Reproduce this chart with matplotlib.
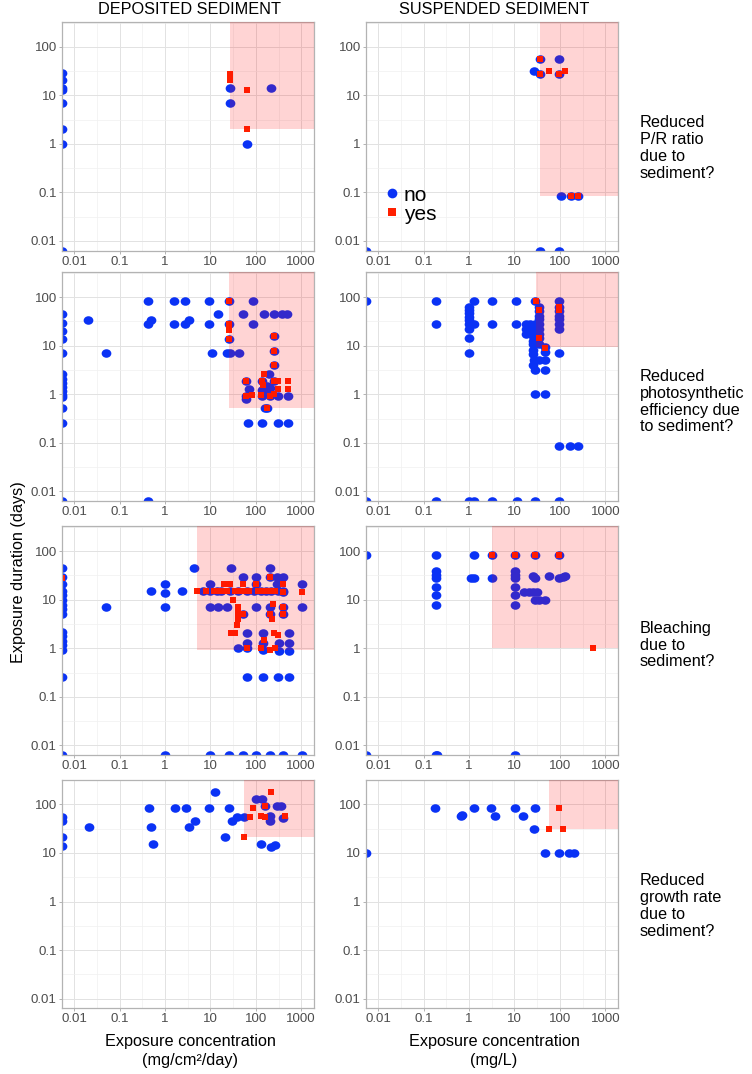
import matplotlib
matplotlib.use('Agg')
import matplotlib.pyplot as plt
from matplotlib.path import Path
from matplotlib.patches import Rectangle
from matplotlib.lines import Line2D
from matplotlib.ticker import FixedLocator, FixedFormatter, NullFormatter
import numpy as np

plt.rcParams['font.family'] = ['Liberation Sans', 'DejaVu Sans']

# ---------------- data ----------------
col_titles = ['DEPOSITED SEDIMENT', 'SUSPENDED SEDIMENT']
row_labels = ['Reduced\nP/R ratio\ndue to\nsediment?',
              'Reduced\nphotosynthetic\nefficiency due\nto sediment?',
              'Bleaching\ndue to\nsediment?',
              'Reduced\ngrowth rate\ndue to\nsediment?']
x_labels = ['Exposure concentration\n(mg/cm\u00b2/day)', 'Exposure concentration\n(mg/L)']
y_label = 'Exposure duration (days)'
legend_labels = ['no', 'yes']
x_ticks = [0.01, 0.1, 1, 10, 100, 1000]
x_tick_labels = ['0.01', '0.1', '1', '10', '100', '1000']
y_ticks = [0.01, 0.1, 1, 10, 100]
y_tick_labels = ['0.01', '0.1', '1', '10', '100']

# lower-left corner of the shaded "effect" region, per panel (row-major: deposited, suspended)
shade_x_min = [27, 36.7, 26, 30, 5, 3.2, 55, 57]
shade_y_min = [2.0, 0.083, 0.52, 9.4, 0.93, 1.0, 21, 30.6]

# Row 1: P/R ratio
dep_pr_no_x = [0.0054, 0.0054, 0.0054, 0.0054, 0.0054, 0.0054, 0.0054, 0.0054, 27, 27, 65, 218]
dep_pr_no_y = [29, 21, 14.3, 13, 7, 2.04, 1, 0.0063, 14.3, 7, 1, 14.3]
dep_pr_yes_x = [27, 27, 65, 65]
dep_pr_yes_y = [28, 21, 13, 2]

sus_pr_no_x = [27.5, 36.7, 36.7, 98, 95, 107, 176, 245, 36.7, 95, 0.0054]
sus_pr_no_y = [31.5, 56.6, 28.2, 56.6, 28, 0.083, 0.083, 0.083, 0.0063, 0.0063, 0.0063]
sus_pr_yes_x = [36.7, 36.7, 59, 95, 128, 176, 245]
sus_pr_yes_y = [56.6, 28.2, 31.5, 28, 31.5, 0.083, 0.083]

# Row 2: photosynthetic efficiency
dep_ps_no_x = [0.0054, 0.0054, 0.0054, 0.0054, 0.0054, 0.0054, 0.0054, 0.0054, 0.0054, 0.0054,
               0.0054, 0.0054, 0.0054, 0.0054, 0.0054,
               0.02, 0.05, 0.42, 0.42, 0.48, 0.43, 1.6, 1.6, 2.8, 2.8, 3.3, 9.1, 9.1, 15, 11,
               23, 27, 42, 26, 26, 26, 52, 86, 86, 152, 253, 370, 480, 246, 246, 246,
               60, 69, 60, 60, 190, 140, 257, 200, 140, 140, 200, 315, 522, 175, 160,
               175, 165, 68, 140, 315, 522]
dep_ps_no_y = [45, 29.4, 20.5, 14.1, 7.1, 2.56, 2.03, 1.69, 1.42, 1.17,
               0.97, 0.86, 0.51, 0.25, 0.0063,
               34, 7.1, 84, 28, 34, 0.0063, 84, 28, 84, 28, 34, 84, 28, 45, 7,
               7, 7, 7, 28, 84, 14, 45, 84, 28, 45, 45, 45, 45, 16, 7.9, 4.1,
               1.87, 1.3, 0.92, 0.81, 2.6, 1.87, 1.9, 1.35, 1.2, 0.92, 0.92, 0.92, 0.92, 0.53, 0.53,
               1.48, 1.2, 0.25, 0.25, 0.25, 0.25]
dep_ps_yes_x = [26, 26, 26, 26, 246, 246, 246, 60, 60, 82, 155, 140, 147, 315, 522, 315, 522,
                257, 131, 200, 257, 175]
dep_ps_yes_y = [84, 28, 21, 14, 16, 7.9, 4.1, 1.87, 0.92, 0.96, 2.57, 1.87, 1.56, 1.87, 1.87, 1.31, 1.31,
                1.9, 0.96, 0.92, 1.0, 0.53]

sus_ps_no_x = [0.0054, 0.0054, 0.185, 1.0, 1.26, 3.2, 11.5, 29, 98,
               0.185, 0.185, 1, 1, 1, 1, 1, 1, 1, 1, 1,
               1.26, 1.26, 3.2, 3.2, 10.9, 10.9,
               18, 21.5, 18, 18, 21.5, 23, 25, 25, 25, 25, 26, 27, 25, 29, 35, 46, 46, 46, 46,
               29, 29, 46, 29, 29,
               35, 35, 35, 35, 35, 35, 35, 35, 35,
               98, 98, 98, 98, 98, 98, 98, 98,
               98, 167, 245]
sus_ps_no_y = [85, 0.0063, 0.0063, 0.0063, 0.0063, 0.0063, 0.0063, 0.0063, 0.0063,
               85, 28, 64, 55, 47, 40, 34, 28, 22, 14.5, 7,
               85, 28, 85, 28, 85, 28,
               28, 28, 22, 17.6, 22, 19, 16, 12.8, 11, 8.2, 6.8, 5.1, 4.0, 3.1, 5.1, 5.1, 3.1, 7.4, 9.4,
               85, 1, 1, 28, 22,
               64, 53, 42, 36, 28, 22, 17.6, 14.3, 11,
               85, 64, 53, 42, 36, 28, 22, 7,
               0.085, 0.085, 0.085]
sus_ps_yes_x = [30, 35.5, 35.5, 46, 97, 97]
sus_ps_yes_y = [85, 55, 14.3, 9, 64, 55]

# Row 3: bleaching
dep_bl_no_x = [0.0054] * 16 + [
    0.05, 0.5, 1.0, 1.0, 1.0, 1.0, 2.4, 4.4,
    7, 10, 14, 17, 27, 41, 63, 90, 133, 170, 220, 300, 400,
    10, 10, 29, 52, 100, 206, 206, 290, 405, 100, 1020, 1020, 15, 23, 52,
    63, 63, 63, 40, 142, 142, 142, 206, 206, 330, 330, 530, 530, 530, 405, 405, 405,
    63, 142, 315, 530,
    10, 26, 52, 100, 206, 405, 1020, 290, 100]
dep_bl_no_y = [46, 29, 21, 14.8, 12.6, 10, 7.9, 6.5, 5, 2.15, 1.75, 1.43, 1.15, 0.9, 0.25, 0.0063,
    7, 14.8, 21, 14, 7, 0.0063, 14.8, 46,
    14.8, 14.8, 14.8, 14.8, 14.8, 14.8, 14.8, 14.8, 14.8, 14.8, 14.8, 14.8, 14.8,
    21, 7, 46, 29, 29, 46, 29, 29, 29, 21, 21, 7, 7, 7, 5,
    2.06, 1.28, 1.0, 1.0, 2.06, 1.28, 0.9, 7, 5, 1.28, 0.88, 2.06, 1.28, 0.88, 5, 7, 14.5,
    0.25, 0.25, 0.25, 0.25,
    0.0063, 0.0063, 0.0063, 0.0063, 0.0063, 0.0063, 0.0063, 21, 7]
dep_bl_yes_x = [0.0054, 5, 8, 12, 15, 19, 23, 35, 45, 55, 70, 110, 140, 180, 230, 270,
                20, 27, 52, 100, 206, 405, 1020, 31, 40, 40, 40, 38, 29, 35, 52,
                63, 130, 148, 245, 300, 208, 260, 405, 405, 405, 236, 230, 206]
dep_bl_yes_y = [28, 14.8, 14.8, 14.8, 15.5, 14.8, 14.8, 14.8, 15.5, 14.8, 14.8, 14.8, 15.5, 14.8, 14.8, 14.8,
                21, 21, 21, 21, 29, 21, 14.3, 10, 7, 5.3, 4.1, 3.0, 2.06, 2.06, 5,
                1.0, 1.0, 1.5, 2.06, 1.9, 0.93, 1.0, 7, 5, 14.5, 8.1, 4.0, 5]

sus_bl_no_x = [0.0054, 0.0054, 0.19, 0.2, 10.5,
               0.19, 0.19, 0.19, 0.19, 0.19, 0.19, 0.19,
               1.27, 1.1, 1.3, 3.2, 3.2, 10.5,
               10.5, 10.5, 10.5, 10.5, 10.5, 10.5,
               16.6, 21, 26, 32, 29, 26, 29, 29, 35, 46, 57, 98, 95, 115, 128]
sus_bl_no_y = [85, 0.0063, 0.0063, 0.0063, 0.0063,
               85, 39, 33, 28, 18, 12.8, 7.7,
               85, 28, 28, 85, 28, 85,
               39, 33, 28, 18, 12.8, 7.7,
               14.3, 14.3, 14.3, 14.3, 85, 31, 28, 10, 10, 10, 31, 85, 28, 29.5, 31]
sus_bl_yes_x = [3.2, 10.5, 29, 98, 525]
sus_bl_yes_y = [85, 85, 85, 85, 1]

# Row 4: growth rate
dep_gr_no_x = [0.0054, 0.0054, 0.0054, 0.0054, 0.021, 0.45, 0.49, 0.53, 1.63, 2.9, 3.4, 4.5, 9.2,
               12.9, 20.5, 25, 29.6, 39, 55, 101, 134, 160, 290, 355, 205, 205, 400, 128, 215, 265]
dep_gr_no_y = [54, 45.5, 21, 14, 34, 83, 34, 15, 83, 83, 34, 45.5, 83,
               182, 21, 83, 45.5, 54, 54, 127, 127, 92, 92, 92, 57, 45.5, 52, 15, 13.5, 14.5]
dep_gr_yes_x = [218, 85, 75, 55, 160, 128, 160, 430]
dep_gr_yes_y = [182, 83, 54, 21, 92, 57, 54, 57]

sus_gr_no_x = [0.0054, 0.18, 0.66, 0.7, 1.3, 3.1, 3.8, 10.5, 15.5, 28, 26.5, 48, 96, 158, 200]
sus_gr_no_y = [10, 83, 58, 60, 83, 83, 58, 83, 58, 83, 30.6, 10, 10, 10, 10]
sus_gr_yes_x = [96, 57, 117]
sus_gr_yes_y = [83, 30.6, 30.6]

panel_data = [
    [(dep_pr_no_x, dep_pr_no_y, dep_pr_yes_x, dep_pr_yes_y),
     (sus_pr_no_x, sus_pr_no_y, sus_pr_yes_x, sus_pr_yes_y)],
    [(dep_ps_no_x, dep_ps_no_y, dep_ps_yes_x, dep_ps_yes_y),
     (sus_ps_no_x, sus_ps_no_y, sus_ps_yes_x, sus_ps_yes_y)],
    [(dep_bl_no_x, dep_bl_no_y, dep_bl_yes_x, dep_bl_yes_y),
     (sus_bl_no_x, sus_bl_no_y, sus_bl_yes_x, sus_bl_yes_y)],
    [(dep_gr_no_x, dep_gr_no_y, dep_gr_yes_x, dep_gr_yes_y),
     (sus_gr_no_x, sus_gr_no_y, sus_gr_yes_x, sus_gr_yes_y)],
]

# ---------------- style ----------------
BLUE = '#0a32f5'
RED = '#ff2000'
XLIM = (10 ** -2.27, 10 ** 3.27)
YLIM = (10 ** -2.2, 10 ** 2.51)

uc = Path.unit_circle()
ellipse = Path(uc.vertices * np.array([1.0, 0.88]), uc.codes)

fig = plt.figure(figsize=(7.52, 10.74), dpi=100)
col_x0 = [0.0824, 0.4867]
col_w = 0.3345
row_y0 = [0.7666, 0.5335, 0.2970, 0.0612]
row_h = 0.2128

axes = []
for r in range(4):
    for c in range(2):
        ax = fig.add_axes([col_x0[c], row_y0[r], col_w, row_h])
        axes.append(ax)
        nx, ny, yx, yy = panel_data[r][c]
        ax.set_xscale('log')
        ax.set_yscale('log')
        ax.set_xlim(*XLIM)
        ax.set_ylim(*YLIM)
        ax.plot(nx, ny, ls='none', marker=ellipse, markersize=7.0, color=BLUE,
                markeredgewidth=0, zorder=2)
        ax.plot(yx, yy, ls='none', marker='s', markersize=4.5, color=RED,
                markeredgewidth=0, zorder=2.5)
        k = r * 2 + c
        x0 = shade_x_min[k]
        y0 = shade_y_min[k]
        ax.add_patch(Rectangle((x0, y0), XLIM[1] * 10 - x0, YLIM[1] * 10 - y0,
                               facecolor='#ff0000', alpha=0.17, edgecolor='none', zorder=3))
        ax.xaxis.set_major_locator(FixedLocator(x_ticks))
        ax.xaxis.set_major_formatter(FixedFormatter(x_tick_labels))
        ax.yaxis.set_major_locator(FixedLocator(y_ticks))
        ax.yaxis.set_major_formatter(FixedFormatter(y_tick_labels))
        ax.xaxis.set_minor_locator(FixedLocator([10 ** (k2 + 0.5) for k2 in range(-3, 4)]))
        ax.yaxis.set_minor_locator(FixedLocator([10 ** (k2 + 0.5) for k2 in range(-3, 3)]))
        ax.xaxis.set_minor_formatter(NullFormatter())
        ax.yaxis.set_minor_formatter(NullFormatter())
        ax.set_axisbelow(True)
        ax.grid(which='major', color='#e2e2e2', linewidth=0.7)
        ax.grid(which='minor', color='#f0f0f0', linewidth=0.5)
        ax.tick_params(which='major', length=2.5, width=0.7, color='#b3b3b3',
                       labelsize=9.5, labelcolor='#4d4d4d', pad=1.2)
        ax.tick_params(which='minor', length=0)
        for s in ax.spines.values():
            s.set_color('#b3b3b3')
            s.set_linewidth(0.9)

# column titles
for c in range(2):
    fig.text(col_x0[c] + col_w / 2 + 0.003, 1 - 9.5 / 1074, col_titles[c], ha='center', va='center',
             fontsize=11.7, color='black')

# x labels
for c in range(2):
    fig.text(col_x0[c] + col_w / 2 + 0.003, 1 - 1051 / 1074, x_labels[c], ha='center', va='center',
             fontsize=11.7, color='black', linespacing=1.35)

# y label
fig.text(19 / 752, 1 - 572 / 1074, y_label, rotation=90, ha='center', va='center',
         fontsize=11.7, color='black')

# row labels
row_centers = [148, 401.7, 645, 906]
for r in range(4):
    fig.text(640 / 752, 1 - row_centers[r] / 1074, row_labels[r], ha='left', va='center',
             fontsize=11.7, color='black', linespacing=1.15)

# legend in top-right panel
handles = [Line2D([], [], ls='none', marker='o', markersize=7.0, color=BLUE, markeredgewidth=0),
           Line2D([], [], ls='none', marker='s', markersize=6.0, color=RED, markeredgewidth=0)]
axes[1].legend(handles, legend_labels, loc='upper left', bbox_to_anchor=(0.079, 0.285),
               frameon=False, fontsize=15, handlelength=0.6, handletextpad=0.26,
               labelspacing=0.0, borderpad=0, borderaxespad=0)

fig.savefig('out.png', dpi=100)
